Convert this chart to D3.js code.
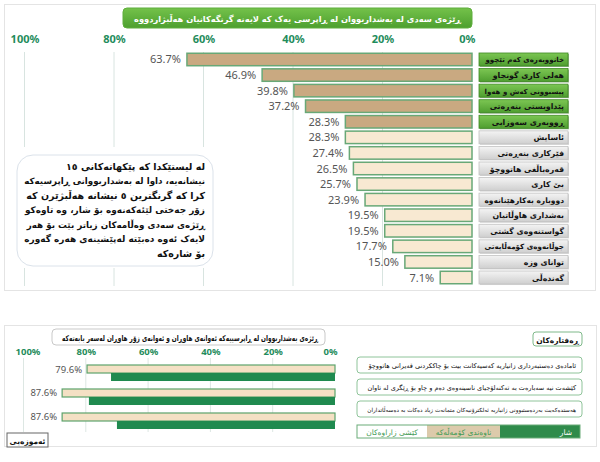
<!DOCTYPE html>
<html>
<head>
<meta charset="utf-8">
<script src="https://cdn.jsdelivr.net/npm/d3@7"></script>
<style>
body{margin:0;background:#fff;}
svg{display:block;}
.ar{font-family:"DejaVu Sans",sans-serif;}
.num{font-family:"Noto Sans","Open Sans",sans-serif;}
</style>
</head>
<body>
<svg id="c" width="600" height="462"></svg>
<script>
// ---------- DATA ----------
const topTitle = "ڕێژەی سەدی لە بەشداربووان لە ڕاپرسی یەک کە لایەنە گرنگەکانیان هەڵبژاردووە";
const topCategories = [
  "خانووبەرەی کەم تێچوو","هەلی کاری گونجاو","پیسبوونی کەش و هەوا","پێداویستی بنەڕەتی","ڕووبەری سەوزایی",
  "ئاسایش","فێرکاری بنەڕەتی","قەرەباڵغی هاتووچۆ","بێ کاری","دووبارە بەکارهێنانەوە",
  "بەشداری هاوڵاتیان","گواستنەوەی گشتی","جوڵانەوەی کۆمەڵایەتی","توانای وزە","گەندەڵی"
];
const topValues = [63.7,46.9,39.8,37.2,28.3,28.3,27.4,26.5,25.7,23.9,19.5,19.5,17.7,15.0,7.1];
const topSelected = [true,true,true,true,true,false,false,false,false,false,false,false,false,false,false];
const tickValues = [0,20,40,60,80,100];
const noteLines = [
  "لە لیستێکدا کە پێکهاتەکانی ١٥",
  "نیشانەیە، داوا لە بەشداربووانی ڕاپرسیەکە",
  "کرا کە گرنگترین ٥ نیشانە هەڵبژێرن کە",
  "زۆر جەختی لێئەکەنەوە بۆ شار، وە تاوەکو",
  "ڕێژەی سەدی وەڵامەکان زیاتر بێت بۆ هەر",
  "لایەک ئەوە دەبێتە لەپێشینەی هەرە گەورە",
  "بۆ شارەکە"
];
const bottomTitle = "ڕێژەی بەشداربووان لە ڕاپرسییەکە ئەوانەی هاوڕان و ئەوانەی زۆر هاوڕان لەسەر بابەتەکە";
const behaviours = [
  "ئامادەی دەستبەرداری زانیاریە کەسیەکانت بیت بۆ چاککردنی قەیرانی هاتووچۆ",
  "کێشەت نیە سەبارەت بە تەکنەلۆجیای ناسینەوەی دەم و چاو بۆ ڕێگری لە تاوان",
  "هەستدەکەیت بەردەستبوونی زانیاریە ئەلکترۆنیەکان متمانەت زیاد دەکات بە دەسەڵاتداران"
];
const agreeValues = [79.6,87.6,87.6];
const strongValues = [71.9,79.0,70.0];
const behavioursTitle = "ڕەفتارەکان";
const legendLabels = ["کێشی زاراوەکان","ناوەندی کۆمەڵەکە","شار"];
const buttonLabel = "ئەموزەیی";

// ---------- DRAW ----------
const svg = d3.select("#c");
const defs = svg.append("defs");
function grad(id, c1, c2){
  const g = defs.append("linearGradient").attr("id",id).attr("x1",0).attr("y1",0).attr("x2",0).attr("y2",1);
  g.append("stop").attr("offset","0%").attr("stop-color",c1);
  g.append("stop").attr("offset","100%").attr("stop-color",c2);
}
grad("gGreen","#7cc653","#4f9e30");
grad("gGray","#f4f4f4","#cfcfcf");
grad("gTitle","#74c24a","#4d9f2f");

// shrink the font of a text until its drawn box fits the given width
function fit(sel, maxW){
  sel.each(function(){
    const t = d3.select(this);
    let fs = parseFloat(t.attr("font-size"));
    let w = this.getBBox().width;
    let n = 0;
    while (w > maxW && n < 20){ fs = fs * maxW / w * 0.995; t.attr("font-size", fs); w = this.getBBox().width; n++; }
  });
}

// panels
svg.append("rect").attr("x",4.5).attr("y",4.5).attr("width",591).attr("height",286)
  .attr("fill","#fff").attr("stroke","#e4e4e4");
svg.append("rect").attr("x",4.5).attr("y",325.5).attr("width",592).attr("height",121)
  .attr("fill","#fff").attr("stroke","#e4e4e4");

// ===== TOP CHART =====
const xT = d3.scaleLinear().domain([0,100]).range([472,24.5]);
const yT = d3.scaleBand().domain(topCategories).range([51.7,285.3]).paddingInner(0.2).paddingOuter(0.1);

// title
svg.append("rect").attr("x",123).attr("y",8).attr("width",349).attr("height",20).attr("rx",4)
  .attr("fill","url(#gTitle)").attr("stroke","#5fae3c");
svg.append("text").attr("class","ar").attr("x",297.5).attr("y",22).attr("text-anchor","middle")
  .attr("fill","#fff").attr("font-weight","bold").attr("font-size",10.5).text(topTitle).call(fit,330);

// gridlines
svg.append("g").selectAll("line").data(tickValues.filter(d=>d>0)).join("line")
  .attr("x1",d=>xT(d)).attr("x2",d=>xT(d)).attr("y1",52).attr("y2",286)
  .attr("stroke","#d8e4e0").attr("stroke-width",1);

// axis
const axT = svg.append("g").attr("transform","translate(0,46)")
  .call(d3.axisTop(xT).tickValues(tickValues).tickSize(0).tickFormat(d=>d+"%"));
axT.select(".domain").remove();
axT.selectAll("text").attr("class","num").attr("fill","#1f8c5c").attr("font-weight","bold")
  .attr("font-size",11).attr("dy",0)
  .attr("text-anchor",d=>d===0?"end":"middle")
  .attr("dx",d=>d===0?3:0);

// note box (white cover + rounded box)
svg.append("rect").attr("x",22).attr("y",147).attr("width",185).attr("height",121).attr("fill","#fff");
svg.append("rect").attr("x",17).attr("y",155).attr("width",196).attr("height",111).attr("rx",16)
  .attr("fill","#fff").attr("stroke","#dbe2ea").attr("stroke-width",1);
svg.append("g").selectAll("text").data(noteLines).join("text")
  .attr("class","ar").attr("x",205).attr("y",(d,i)=>169.5+i*14.5)
  .attr("direction","rtl").attr("text-anchor","start")
  .attr("font-size",9.5).attr("font-weight","bold").attr("fill","#111").text(d=>d).call(fit,182);

// bars
svg.append("g").selectAll("rect").data(topValues).join("rect")
  .attr("x",d=>xT(d)).attr("y",(d,i)=>yT(topCategories[i]))
  .attr("width",d=>xT(0)-xT(d)).attr("height",yT.bandwidth())
  .attr("fill",(d,i)=>topSelected[i]?"#c9a981":"#f8e9d2")
  .attr("stroke","#68a877").attr("stroke-width",1.5);

// value labels
svg.append("g").selectAll("text").data(topValues).join("text")
  .attr("class","num").attr("x",d=>xT(d)-6).attr("y",(d,i)=>yT(topCategories[i])+yT.bandwidth()/2+4)
  .attr("text-anchor","end").attr("font-size",11).attr("fill","#555").text(d=>d.toFixed(1)+"%");

// category label boxes
const lab = svg.append("g").selectAll("g").data(topCategories).join("g")
  .attr("transform",d=>`translate(479,${yT(d)+yT.bandwidth()/2-6.5})`);
lab.append("rect").attr("x",1).attr("y",1).attr("width",89).attr("height",13)
  .attr("fill",(d,i)=>topSelected[i]?"#2f6e1c":"#aaaaaa").attr("opacity",0.5);
lab.append("rect").attr("width",89).attr("height",13)
  .attr("fill",(d,i)=>topSelected[i]?"url(#gGreen)":"url(#gGray)")
  .attr("stroke",(d,i)=>topSelected[i]?"#3f8a25":"#c2c2c2").attr("stroke-width",0.8);
lab.append("text").attr("class","ar").attr("x",85).attr("y",9.5)
  .attr("direction","rtl").attr("text-anchor","start")
  .attr("font-size",7.8).attr("font-weight","bold").attr("fill","#111").text(d=>d).call(fit,80);

// ===== BOTTOM CHART =====
const xB = d3.scaleLinear().domain([0,100]).range([335,23.5]);
const yB = d3.scaleBand().domain(behaviours).range([361,433]).paddingInner(0.333).paddingOuter(0.1667);
const ySub = d3.scaleBand().domain(["agree","strong"]).range([0,yB.bandwidth()]);

// title box (text condensed to fill the box, like the reference)
svg.append("rect").attr("x",52).attr("y",329).attr("width",273).attr("height",16).attr("rx",4)
  .attr("fill","#fff").attr("stroke","#c9c9c9");
svg.append("text").attr("class","ar").attr("x",318).attr("y",340.5)
  .attr("direction","rtl").attr("text-anchor","start")
  .attr("font-size",8).attr("font-weight","bold").attr("fill","#111")
  .attr("textLength",256).attr("lengthAdjust","spacingAndGlyphs").text(bottomTitle);

svg.append("g").selectAll("line").data(tickValues.filter(d=>d>0)).join("line")
  .attr("x1",d=>xB(d)).attr("x2",d=>xB(d)).attr("y1",358).attr("y2",432)
  .attr("stroke","#dde7e3").attr("stroke-width",1);

const axB = svg.append("g").attr("transform","translate(0,358)")
  .call(d3.axisTop(xB).tickValues(tickValues).tickSize(0).tickFormat(d=>d+"%"));
axB.select(".domain").remove();
axB.selectAll("text").attr("class","num").attr("fill","#1f8c5c").attr("font-weight","bold")
  .attr("font-size",9.5).attr("dy",0)
  .attr("text-anchor",d=>d===0?"end":"middle")
  .attr("dx",d=>d===0?2:(d===100?4:0));

const gB = svg.append("g");
gB.selectAll("rect.a").data(agreeValues).join("rect").attr("class","a")
  .attr("x",d=>xB(d)).attr("y",(d,i)=>yB(behaviours[i])+ySub("agree"))
  .attr("width",d=>xB(0)-xB(d)).attr("height",ySub.bandwidth())
  .attr("fill","#f4e0c4").attr("stroke","#5da36c").attr("stroke-width",1.2);
gB.selectAll("rect.s").data(strongValues).join("rect").attr("class","s")
  .attr("x",d=>xB(d)).attr("y",(d,i)=>yB(behaviours[i])+ySub("strong"))
  .attr("width",d=>xB(0)-xB(d)).attr("height",ySub.bandwidth())
  .attr("fill","#1f8a4f");
gB.selectAll("text").data(agreeValues).join("text")
  .attr("class","num").attr("x",d=>xB(d)-5).attr("y",(d,i)=>yB(behaviours[i])+ySub("agree")+ySub.bandwidth()/2+3.5)
  .attr("text-anchor","end").attr("font-size",9.5).attr("fill","#555").text(d=>d.toFixed(1)+"%");

// button
svg.append("rect").attr("x",7).attr("y",433).attr("width",41).attr("height",14)
  .attr("fill","#fff").attr("stroke","#666");
svg.append("text").attr("class","ar").attr("x",27.5).attr("y",443.5).attr("text-anchor","middle")
  .attr("font-size",7.5).attr("font-weight","bold").attr("fill","#111").text(buttonLabel);

// behaviours panel
svg.append("rect").attr("x",533).attr("y",332).attr("width",49).attr("height",14).attr("rx",3)
  .attr("fill","#fff").attr("stroke","#7fb98a");
svg.append("text").attr("class","ar").attr("x",557.5).attr("y",342.5).attr("text-anchor","middle")
  .attr("font-size",7.5).attr("font-weight","bold").attr("fill","#111").text(behavioursTitle);

const bx = svg.append("g").selectAll("g").data(behaviours).join("g")
  .attr("transform",(d,i)=>`translate(357,${357+i*22})`);
bx.append("rect").attr("width",225).attr("height",16).attr("rx",3)
  .attr("fill","#fff").attr("stroke","#8fc49a").attr("stroke-width",1);
bx.append("text").attr("class","ar").attr("x",219).attr("y",11)
  .attr("direction","rtl").attr("text-anchor","start")
  .attr("font-size",7.3).attr("fill","#111").text(d=>d).call(fit,210);

// legend bar
const legFills = ["#fff","#dccaab","#2f8b4b"];
const legText = ["#3f9b55","#3f9b55","#fff"];
const legX = d3.scaleOrdinal().domain(legendLabels).range([357,427,500]);
const legW = [70,73,80];
const lg = svg.append("g").selectAll("g").data(legendLabels).join("g")
  .attr("transform",d=>`translate(${legX(d)},425)`);
lg.append("rect").attr("width",(d,i)=>legW[i]).attr("height",13)
  .attr("fill",(d,i)=>legFills[i]);
lg.append("text").attr("class","ar").attr("x",(d,i)=>i===2?legW[i]-8:legW[i]/2).attr("y",9.5)
  .attr("text-anchor",(d,i)=>i===2?"end":"middle")
  .attr("font-size",7.5).attr("fill",(d,i)=>legText[i]).text(d=>d).call(fit,64);
svg.append("rect").attr("x",357).attr("y",425).attr("width",223).attr("height",13)
  .attr("fill","none").attr("stroke","#6aac79").attr("stroke-width",1);
</script>
</body>
</html>
